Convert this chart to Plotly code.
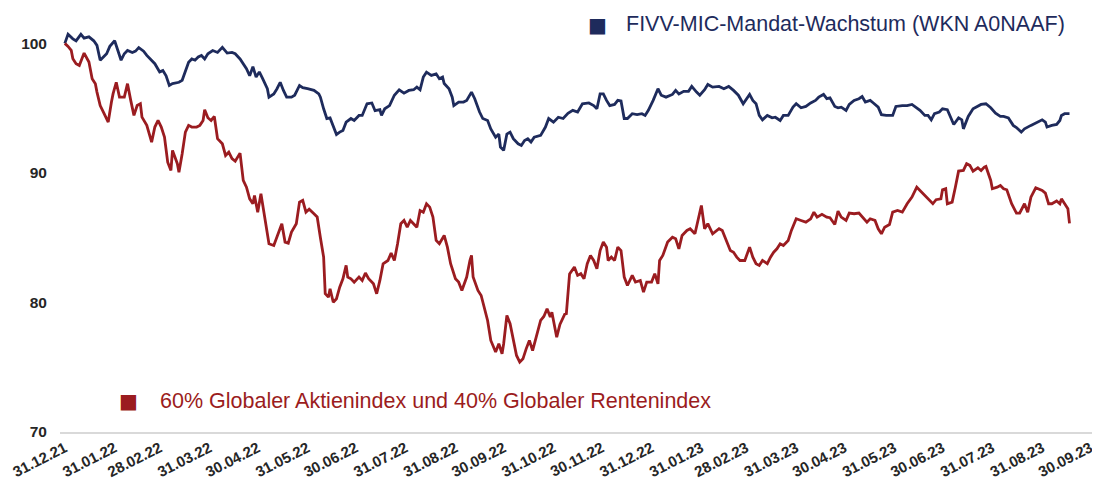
import pandas as pd
import plotly.graph_objects as go

START = pd.Timestamp("2021-12-31")

# FIVV-MIC-Mandat-Wachstum: days since 31.12.21 and index value
fivv_days = [0, 2, 5, 7, 10, 12, 15, 18, 20, 21, 22, 24, 26, 28, 31, 33, 35, 37, 39, 42, 44, 46, 49, 51, 54, 56, 59, 61, 63, 65, 67, 71, 73, 75, 77, 79, 81, 83, 85, 87, 89, 92, 95, 98, 101, 104, 106, 109, 111, 113, 115, 117, 119, 121, 123, 126, 127, 130, 132, 134, 136, 138, 141, 143, 146, 148, 151, 155, 158,
             159, 161, 163, 165, 167, 169, 171, 173, 175, 178, 180, 183, 185, 188, 191, 193, 196, 197, 199, 202, 205, 208, 211, 214, 217, 219, 221, 223, 225, 228, 231, 233, 235, 236, 239, 241, 242, 245, 248, 250, 253, 255, 258, 260, 263, 265, 268, 270, 271, 273, 275, 277, 279, 282, 284, 286, 288, 290, 292, 296, 299, 301, 304, 307, 310, 313,
             316, 319, 322, 326, 329, 331, 333, 335, 337, 339, 342, 344, 346, 348, 350, 353, 356, 359, 361, 363, 366, 369, 371, 374, 378, 380, 382, 385, 388, 390, 393, 395, 398, 400, 403, 407, 410, 413, 416, 419, 422, 424, 426, 428, 430, 432, 434, 437, 440, 442, 445, 447, 450, 453, 455, 458, 461, 464,
             467, 469, 472, 474, 476, 479, 481, 483, 486, 488, 491, 494, 496, 498, 501, 503, 506, 508, 511, 515, 517, 521, 524, 527, 530, 532, 535, 537, 539, 541, 544, 546, 549, 551, 553, 556, 558, 559, 562, 565, 567, 570, 573, 576, 579, 582, 584, 587, 590, 592, 595, 597, 601, 603, 606, 608, 610, 611, 614, 617, 619, 620, 622, 625]
fivv_vals = [100.0, 100.7, 100.35, 100.2, 100.7, 100.4, 100.5, 100.2, 99.85, 99.3, 98.7, 98.95, 99.2, 99.77, 100.2, 99.45, 98.7, 99.2, 99.45, 99.3, 99.4, 99.67, 99.4, 99.07, 98.7, 98.43, 97.8, 97.9, 97.5, 96.75, 96.9, 97.0, 97.15, 97.9, 98.55, 98.8, 98.7, 98.95, 99.07, 98.8, 99.2, 99.45, 99.3, 99.7, 99.25, 99.3, 99.2, 98.8, 98.43, 98.05, 97.5, 98.2, 97.4, 97.8, 97.3, 96.5, 95.85, 96.1, 96.5, 97.0, 96.37, 95.85, 95.85, 96.0, 96.75, 96.58, 96.5, 96.37, 96.1,
             95.85, 94.95, 94.2, 94.25, 93.67, 92.97, 93.15, 93.28, 93.92, 94.2, 94.05, 94.44, 94.44, 95.34, 95.4, 94.8, 94.88, 94.44, 94.95, 95.2, 96.0, 96.42, 96.16, 96.37, 96.42, 96.62, 96.42, 97.4, 97.78, 97.53, 97.65, 97.27, 97.4, 96.9, 96.5, 95.85, 95.2, 95.47, 95.47, 95.6, 96.24, 95.73, 94.7, 94.2, 94.05, 93.4, 92.76, 93.0, 92.0, 91.74, 93.0, 93.15, 92.64, 92.25, 92.12, 92.5, 92.64, 92.38, 92.76, 92.9, 93.54, 94.2, 93.92, 94.3, 94.2, 94.6,
             94.83, 94.7, 95.34, 95.4, 95.2, 94.95, 96.1, 96.1, 95.6, 95.2, 95.29, 95.6, 95.55, 94.2, 94.2, 94.57, 94.5, 94.57, 94.44, 94.83, 95.6, 96.5, 96.0, 95.85, 96.06, 96.37, 96.1, 96.3, 96.3, 96.68, 96.24, 96.0, 96.42, 96.83, 96.62, 96.68, 96.5, 96.68, 96.37, 96.0, 95.34, 95.73, 96.06, 95.6, 95.34, 94.44, 94.1, 94.44, 94.25, 94.3, 94.05, 94.44, 94.44, 95.08, 95.34, 95.03, 95.13, 95.4,
             95.6, 95.85, 96.06, 95.73, 95.8, 95.13, 95.03, 95.08, 94.83, 95.29, 95.6, 95.73, 95.9, 95.47, 95.6, 95.4, 95.08, 94.5, 94.44, 94.44, 95.13, 95.2, 95.2, 95.29, 95.03, 94.83, 94.44, 94.44, 94.1, 94.57, 94.7, 94.95, 94.88, 94.3, 93.74, 94.25, 94.1, 93.4, 94.36, 94.95, 95.08, 95.29, 95.34, 95.03, 94.62, 94.36, 94.36, 94.25, 93.67, 93.5, 93.15, 93.4, 93.67, 93.8, 94.0, 94.1, 93.92, 93.54, 93.67, 93.74, 94.05, 94.44, 94.57, 94.57]

# 60% Globaler Aktienindex / 40% Globaler Rentenindex
bench_days = [0, 2, 4, 5, 7, 9, 12, 14, 15, 17, 19, 20, 22, 24, 27, 29, 30, 32, 34, 37, 39, 41, 43, 45, 47, 48, 51, 54, 56, 58, 60, 62, 64, 66, 67, 70, 71, 73, 75, 77, 79, 82, 84, 86, 87, 89, 91, 93, 95, 98, 100, 102, 104, 106, 109, 111, 113, 115, 117, 118, 120, 122, 124, 126, 127, 130, 132, 135, 137, 139, 141, 144, 146, 148, 150, 152, 155, 157, 159,
              161, 162, 164, 165, 167, 169, 171, 173, 175, 176, 178, 180, 183, 185, 187, 189, 192, 194, 196, 198, 201, 203, 205, 207, 209, 211, 213, 215, 217, 219, 221, 223, 225, 227, 229, 231, 233, 236, 238, 240, 243, 245, 247, 250, 252, 253, 254, 257, 259, 261, 263, 265, 268, 270, 272, 273, 275, 277, 279, 281, 283, 285, 287, 289, 291, 293, 296, 298, 300, 302, 303, 306, 308, 311, 312,
              314, 317, 319, 321, 323, 325, 327, 329, 331, 333, 335, 337, 338, 340, 342, 344, 346, 348, 350, 353, 355, 358, 360, 362, 365, 367, 369, 370, 372, 375, 378, 380, 382, 384, 387, 389, 392, 394, 396, 398, 400, 403, 407, 409, 411, 414, 416, 418, 420, 423, 426, 428, 430, 432, 434, 437, 439, 441, 443, 445, 447, 450, 452, 455, 458, 461, 464, 466,
              468, 471, 474, 476, 479, 481, 483, 486, 488, 491, 494, 496, 499, 501, 504, 506, 508, 510, 513, 515, 518, 521, 524, 527, 530, 532, 535, 538, 540, 542, 545, 546, 548, 549, 552, 554, 556, 559, 561, 563, 565, 568, 570, 572, 573, 576, 577, 580, 582, 584, 586, 589, 592, 594, 597, 599, 601, 604, 608, 610, 612, 614, 617, 619, 620, 622, 624, 625]
bench_vals = [100.0, 99.77, 99.46, 98.82, 98.43, 98.3, 99.25, 98.82, 98.56, 97.27, 96.89, 96.24, 95.2, 94.7, 93.92, 95.47, 96.1, 97.0, 95.85, 95.85, 96.89, 95.6, 94.44, 95.2, 95.34, 94.31, 93.67, 92.38, 93.54, 94.05, 93.54, 92.76, 90.83, 90.19, 91.74, 90.71, 90.06, 91.48, 93.15, 93.67, 93.54, 93.54, 93.67, 94.05, 94.88, 94.26, 94.05, 94.36, 92.64, 92.25, 91.35, 91.6, 91.1, 90.91, 91.53, 89.42, 88.9, 88.0, 87.62, 88.26, 86.97, 88.39, 86.97, 85.56, 84.53, 84.4, 85.04, 86.08, 84.66, 84.58, 85.43, 86.08, 87.75, 87.88, 86.97, 87.2, 86.85, 86.6, 85.0,
              83.5, 80.67, 80.41, 81.06, 80.02, 80.29, 81.18, 81.83, 82.86, 81.96, 81.83, 81.57, 81.96, 81.7, 82.27, 81.83, 81.44, 80.67, 81.7, 82.99, 83.24, 83.81, 83.24, 84.53, 86.08, 86.33, 85.81, 86.33, 86.08, 85.81, 87.1, 86.97, 87.62, 87.36, 86.59, 84.79, 84.53, 85.17, 84.27, 82.99, 81.83, 81.57, 80.93, 81.96, 83.24, 83.63, 81.96, 80.93, 80.54, 79.64, 78.61, 77.07, 76.17, 76.81, 76.04, 76.81, 79.0, 78.36, 77.07, 75.91, 75.39, 75.65, 76.42, 77.07, 76.29, 77.2, 78.61, 78.92, 79.51, 78.87, 79.25, 77.32, 78.3, 79.1, 79.13,
              82.2, 82.73, 82.09, 82.22, 81.83, 82.99, 83.63, 83.24, 82.6, 84.01, 84.66, 84.27, 83.24, 83.5, 83.24, 84.27, 84.01, 81.96, 81.31, 82.09, 81.57, 81.7, 80.8, 81.57, 81.57, 82.22, 81.44, 83.24, 83.63, 84.66, 85.04, 84.92, 84.14, 85.17, 85.56, 85.69, 85.3, 86.33, 87.49, 85.69, 86.08, 85.3, 85.69, 85.56, 84.92, 84.01, 83.88, 83.5, 83.24, 83.24, 84.27, 83.5, 82.99, 82.86, 83.24, 82.99, 83.5, 83.88, 84.14, 84.53, 84.4, 84.79, 85.56, 86.46, 86.33, 86.2, 86.46, 86.97,
              86.59, 86.8, 86.59, 86.54, 86.02, 87.05, 86.59, 86.33, 86.9, 86.85, 86.9, 86.59, 86.2, 86.46, 86.33, 85.69, 85.3, 85.81, 86.02, 86.97, 87.1, 86.97, 87.62, 88.13, 88.9, 88.65, 88.26, 87.93, 87.62, 87.93, 88.0, 88.7, 88.78, 87.62, 87.75, 88.9, 90.14, 90.19, 90.71, 90.58, 90.14, 90.4, 90.19, 90.45, 90.5, 89.42, 88.78, 88.9, 89.03, 88.78, 88.7, 87.62, 86.9, 86.9, 87.62, 86.97, 88.13, 88.85, 88.65, 88.44, 87.62, 87.62, 87.83, 87.62, 88.0, 87.62, 87.23, 86.11]

tick_dates = ["2021-12-31", "2022-01-31", "2022-02-28", "2022-03-31", "2022-04-30", "2022-05-31",
              "2022-06-30", "2022-07-31", "2022-08-31", "2022-09-30", "2022-10-31", "2022-11-30",
              "2022-12-31", "2023-01-31", "2023-02-28", "2023-03-31", "2023-04-30", "2023-05-31",
              "2023-06-30", "2023-07-31", "2023-08-31", "2023-09-30"]
tick_labels = [pd.Timestamp(d).strftime("%d.%m.%y") for d in tick_dates]
y_ticks = [70, 80, 90, 100]

NAVY = "#1e2b5c"
RED = "#9b1c20"
FONT = "Liberation Sans"

fivv_x = START + pd.to_timedelta(fivv_days, unit="D")
bench_x = START + pd.to_timedelta(bench_days, unit="D")

fig = go.Figure()
fig.add_trace(go.Scatter(x=fivv_x, y=fivv_vals, mode="lines",
                         line=dict(color=NAVY, width=2.8), name="FIVV-MIC-Mandat-Wachstum (WKN A0NAAF)"))
fig.add_trace(go.Scatter(x=bench_x, y=bench_vals, mode="lines",
                         line=dict(color=RED, width=2.8), name="60% Globaler Aktienindex und 40% Globaler Rentenindex"))

# page has an 8px body margin; figure is sized to the remaining area
FIG_W, FIG_H = 1092, 487
M_L, M_R, M_T, M_B = 52, 8, 3, 63
PLOT_W = FIG_W - M_L - M_R
PLOT_H = FIG_H - M_T - M_B


def px(xp):  # screen x -> paper x
    return (xp - 8 - M_L) / PLOT_W


def py(yp):  # screen y -> paper y
    return (FIG_H - M_B - (yp - 8)) / PLOT_H


fig.update_layout(
    width=FIG_W, height=FIG_H,
    margin=dict(l=M_L, r=M_R, t=M_T, b=M_B, autoexpand=False),
    paper_bgcolor="white", plot_bgcolor="white",
    showlegend=False,
    font=dict(family=FONT),
    xaxis=dict(
        type="date",
        range=["2021-12-28", "2023-10-01"],
        tickvals=tick_dates, ticktext=tick_labels, tickangle=-27,
        tickfont=dict(family=FONT, size=15, color="#262626", weight="bold"),
        showgrid=False, zeroline=False,
        showline=True, linecolor="#d9d9d9", linewidth=1.5,
        ticks="", automargin=False,
    ),
    yaxis=dict(
        range=[70, 102.5],
        tickvals=y_ticks,
        tickfont=dict(family=FONT, size=15.5, color="#262626", weight="bold"),
        showgrid=False, zeroline=False, showline=False,
        ticks="", ticklabelstandoff=12, automargin=False,
    ),
)

# legend-like annotations
fig.add_annotation(xref="paper", yref="paper", x=px(597), y=py(24.5),
                   text="■", showarrow=False, font=dict(family="DejaVu Sans", size=20, color=NAVY),
                   xanchor="center", yanchor="middle")
fig.add_annotation(xref="paper", yref="paper", x=px(624), y=py(24),
                   text="FIVV-MIC-Mandat-Wachstum (WKN A0NAAF)", showarrow=False,
                   font=dict(family=FONT, size=21.5, color=NAVY), xanchor="left", yanchor="middle")
fig.add_annotation(xref="paper", yref="paper", x=px(128), y=py(401),
                   text="■", showarrow=False, font=dict(family="DejaVu Sans", size=20, color=RED),
                   xanchor="center", yanchor="middle")
fig.add_annotation(xref="paper", yref="paper", x=px(158), y=py(401),
                   text="60% Globaler Aktienindex und 40% Globaler Rentenindex", showarrow=False,
                   font=dict(family=FONT, size=21.5, color=RED), xanchor="left", yanchor="middle")

fig.write_html("out.html")
